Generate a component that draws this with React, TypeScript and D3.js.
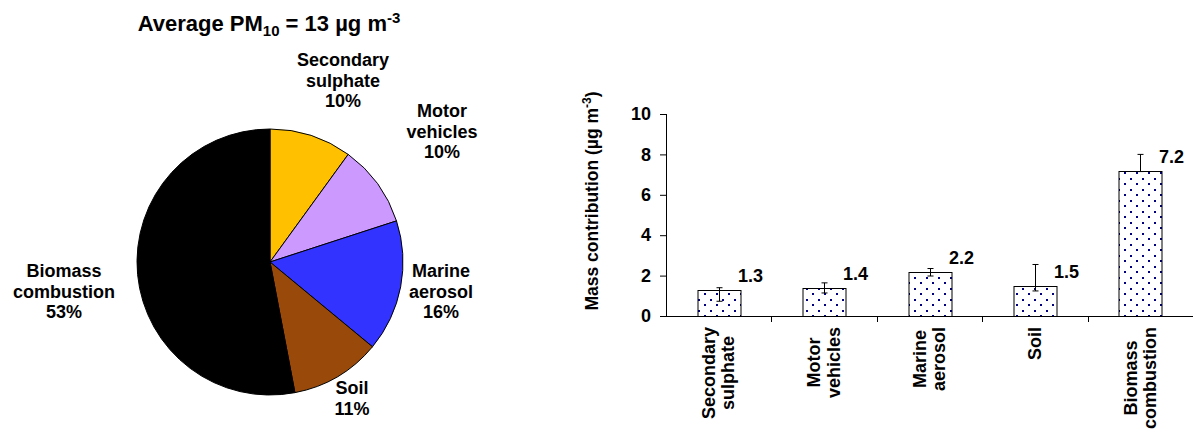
import { useEffect, useRef } from "react";
import * as d3 from "d3";

// pie data (% of PM10)
const pieNames = ["Secondary sulphate", "Motor vehicles", "Marine aerosol", "Soil", "Biomass combustion"];
const piePercent = [10, 10, 16, 11, 53];
const pieColors = ["#FFC000", "#CC99FF", "#3333FF", "#99490A", "#000000"];

// bar data (µg m-3)
const barCategories = [["Secondary", "sulphate"], ["Motor", "vehicles"], ["Marine", "aerosol"], ["Soil"], ["Biomass", "combustion"]];
const barValues = [1.3, 1.4, 2.2, 1.5, 7.2];
const errLow = [0.73, 1.14, 1.98, 1.24, 7.15];
const errHigh = [1.4, 1.64, 2.35, 2.55, 8.0];
const yTicks = [0, 2, 4, 6, 8, 10];

const FONT = "'Liberation Sans', Arial, sans-serif";
const FS = 18;

const App = () => {
  const ref = useRef<SVGSVGElement | null>(null);

  useEffect(() => {
    const svg = d3.select(ref.current);
    svg.selectAll("*").remove();

    // ---------- title ----------
    const title = svg
      .append("text")
      .attr("x", 269)
      .attr("y", 31)
      .attr("text-anchor", "middle")
      .attr("font-size", 22)
      .attr("font-weight", "bold");
    title.append("tspan").text("Average PM");
    title.append("tspan").attr("font-size", 15).attr("dy", 5).text("10");
    title.append("tspan").attr("dy", -5).text(" = 13 µg m");
    title.append("tspan").attr("font-size", 15).attr("dy", -8).text("-3");

    // ---------- pie ----------
    const cx = 270;
    const cy = 262;
    const r = 133;
    const pie = d3.pie<number>().sort(null).value((d) => d);
    const arc = d3.arc<d3.PieArcDatum<number>>().innerRadius(0).outerRadius(r);
    const gPie = svg.append("g").attr("transform", `translate(${cx},${cy})`);
    gPie
      .selectAll("path")
      .data(pie(piePercent))
      .enter()
      .append("path")
      .attr("d", arc)
      .attr("fill", (d, i) => pieColors[i])
      .attr("stroke", "#000")
      .attr("stroke-width", 1);

    // label positions around the pie (centre x, first baseline)
    const pieLabelPos = [
      [343, 66],
      [442, 117],
      [441, 277],
      [352, 394],
      [64, 277],
    ];
    pieNames.forEach((name, i) => {
      const lines = name.split(" ").concat([`${piePercent[i]}%`]);
      const t = svg
        .append("text")
        .attr("text-anchor", "middle")
        .attr("font-size", FS)
        .attr("font-weight", "bold");
      lines.forEach((ln, j) => {
        t.append("tspan")
          .attr("x", pieLabelPos[i][0])
          .attr("y", pieLabelPos[i][1] + j * 20.5)
          .text(ln);
      });
    });

    // ---------- bar chart ----------
    const x0 = 666;
    const x1 = 1193;
    const yTop = 114;
    const yBot = 316;

    const step = (x1 - x0) / barValues.length;
    const xCenter = (i: number) => x0 + step * (i + 0.5);
    const y = d3.scaleLinear().domain([0, 10]).range([yBot, yTop]);

    const defs = svg.append("defs");
    const pat = defs
      .append("pattern")
      .attr("id", "dots")
      .attr("patternUnits", "userSpaceOnUse")
      .attr("width", 12)
      .attr("height", 11);
    pat.append("rect").attr("width", 12).attr("height", 11).attr("fill", "#fff");
    pat.append("rect").attr("x", 2).attr("y", 2).attr("width", 2).attr("height", 2).attr("fill", "#000080");
    pat.append("rect").attr("x", 8).attr("y", 7).attr("width", 2).attr("height", 2).attr("fill", "#000080");

    const bw = 43;
    const gBars = svg.append("g");
    barValues.forEach((v, i) => {
      const cxb = Math.round(xCenter(i)) + 0.5;
      gBars
        .append("rect")
        .attr("x", cxb - bw / 2)
        .attr("y", Math.round(y(v)) + 0.5)
        .attr("width", bw)
        .attr("height", yBot - Math.round(y(v)))
        .attr("fill", "url(#dots)")
        .attr("stroke", "#000")
        .attr("stroke-width", 1);

      // error bar
      gBars
        .append("path")
        .attr(
          "d",
          `M${cxb},${y(errHigh[i])}V${y(errLow[i])}M${cxb - 3},${y(errHigh[i])}H${cxb + 3}M${cxb - 3},${y(errLow[i])}H${cxb + 3}`
        )
        .attr("stroke", "#000")
        .attr("stroke-width", 1)
        .attr("fill", "none");

      gBars
        .append("text")
        .attr("x", cxb + 31)
        .attr("y", y(v) - 8)
        .attr("text-anchor", "middle")
        .attr("font-size", FS)
        .attr("font-weight", "bold")
        .text(v.toFixed(1));
    });

    // y axis
    const yAxis = svg
      .append("g")
      .attr("transform", `translate(${x0},0)`)
      .call(d3.axisLeft(y).tickValues(yTicks).tickSize(6).tickPadding(9).tickFormat(d3.format("d")));
    yAxis.select(".domain").attr("stroke", "#000").attr("d", `M0.5,${yTop}V${yBot}`);
    yAxis.selectAll("line").attr("stroke", "#000");
    yAxis
      .selectAll("text")
      .attr("font-size", FS)
      .attr("font-weight", "bold")
      .attr("font-family", FONT)
      .attr("fill", "#000");

    // x axis line + separator ticks
    const gx = svg.append("g");
    gx.append("line")
      .attr("x1", x0)
      .attr("x2", x1)
      .attr("y1", yBot + 0.5)
      .attr("y2", yBot + 0.5)
      .attr("stroke", "#000");
    for (let i = 1; i < barValues.length; i++) {
      const xt = Math.round(x0 + step * i) + 0.5;
      gx.append("line").attr("x1", xt).attr("x2", xt).attr("y1", yBot).attr("y2", yBot + 6).attr("stroke", "#000");
    }

    // rotated category labels: widest line starts just below the axis
    barCategories.forEach((lines, i) => {
      const cxl = xCenter(i);
      const n = lines.length;
      const t = gx
        .append("text")
        .attr("font-size", FS)
        .attr("font-weight", "bold")
        .attr("text-anchor", "middle");
      lines.forEach((ln, j) => {
        t.append("tspan")
          .attr("x", 0)
          .attr("y", 6 + (j - (n - 1) / 2) * 19.5)
          .text(ln);
      });
      t.attr("transform", `translate(${cxl},0) rotate(-90)`);
      const w = (t.node() as SVGTextElement).getBBox().width;
      t.attr("transform", `translate(${cxl},${yBot + 11 + w / 2}) rotate(-90)`);
    });

    // y axis title
    const yt = svg
      .append("text")
      .attr("transform", `translate(598,201) rotate(-90)`)
      .attr("text-anchor", "middle")
      .attr("font-size", 17.5)
      .attr("font-weight", "bold");
    yt.append("tspan").text("Mass contribution (µg m");
    yt.append("tspan").attr("font-size", 12).attr("dy", -7).text("-3");
    yt.append("tspan").attr("dy", 7).text(")");
  }, []);

  return (
    <svg
      ref={ref}
      width={1197}
      height={431}
      style={{ position: "absolute", left: 0, top: 0, background: "#fff" }}
      fontFamily={FONT}
    />
  );
};

export default App;
